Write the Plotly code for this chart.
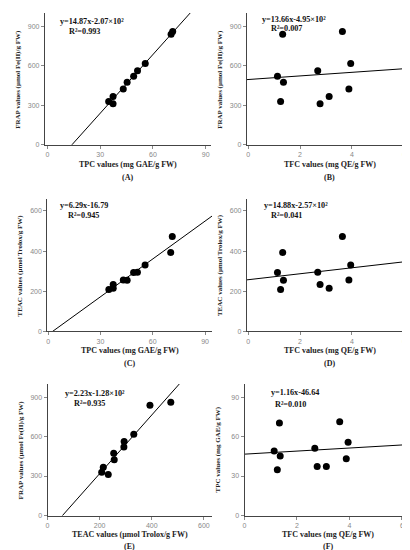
import plotly.graph_objects as go

# ten samples, values
tfc = [1.13, 1.33, 1.36, 1.25, 2.68, 2.77, 3.12, 3.63, 3.95, 3.88]   # mg QE/g FW
tpc = [49.0, 70.3, 45.3, 34.8, 51.2, 37.3, 37.3, 71.2, 55.6, 43.1]   # mg GAE/g FW
frap = [520, 838, 474, 328, 562, 311, 366, 860, 617, 423]            # umol Fe(II)/g FW
teac = [293, 393, 254, 208, 294, 233, 214, 473, 331, 256]            # umol Trolox/g FW

# fitted lines (slope, intercept) and the text printed on each panel
slopes = [14.87, 13.66, 6.29, 14.88, 2.23, 1.16]
intercepts = [-207.0, 495.0, -16.79, 257.0, -128.0, 46.64]
eq_text = ["y=14.87x-2.07×10²", "y=13.66x-4.95×10²", "y=6.29x-16.79",
           "y=14.88x-2.57×10²", "y=2.23x-1.28×10²", "y=1.16x-46.64"]
r2_text = ["R²=0.993", "R²=0.007", "R²=0.945", "R²=0.041", "R²=0.935", "R²=0.010"]
letters = ["(A)", "(B)", "(C)", "(D)", "(E)", "(F)"]

TPC_T = "TPC values (mg GAE/g FW)"
TFC_T = "TFC values (mg QE/g FW)"
FRAP_T = "FRAP values (μmol Fe(II)/g FW)"
TEAC_T = "TEAC values (μmol Trolox/g FW)"

panels = [
    # x, y, xtitle, ytitle, xrange, yrange, xdtick, ydtick
    (tpc, frap, TPC_T, FRAP_T, [-1.5, 93], [0, 1000], 30, 300),
    (tfc, frap, TFC_T, FRAP_T, [-0.05, 6.35], [0, 1000], 2, 300),
    (tpc, teac, TPC_T, TEAC_T, [-0.5, 94], [0, 660], 30, 200),
    (tfc, teac, TFC_T, TEAC_T, [-0.05, 6.35], [0, 660], 2, 200),
    (teac, frap, TEAC_T, FRAP_T, [0, 630], [0, 1000], 200, 300),
    (tfc, tpc, TFC_T, TPC_T, [0, 6.4], [0, 100], 2, 30),
]

W, H = 410, 550
# plot boxes in pixels: left, right, top, bottom
boxes = [
    (35, 202, 5, 137.5), (238, 405, 5, 137.5),
    (37.5, 203, 192, 325), (238, 405, 192, 325),
    (37.7, 202.7, 378, 510.3), (235.7, 404.3, 378, 510.3),
]
eq_pos = [(48, 14, 57, 23.5), (251, 12, 260, 21), (48, 199, 56, 209),
          (253, 199, 260, 209), (53, 388, 62, 398), (260, 387, 264, 399)]
title_y = [157, 157, 344, 344, 529, 529]
letter_y = [170, 170, 357, 357, 541, 541]

serif = "Liberation Serif"
fig = go.Figure()
layout = {}
annots = []

for i, (xs, ys, xt, yt, xr, yr, xd, yd) in enumerate(panels):
    n = "" if i == 0 else str(i + 1)
    l, r, t, b = boxes[i]
    fig.add_trace(go.Scatter(x=xs, y=ys, mode="markers", xaxis="x" + n, yaxis="y" + n,
                             marker=dict(color="black", size=7), showlegend=False))
    lx = [xr[0], xr[1]]
    ly = [slopes[i] * v + intercepts[i] for v in lx]
    fig.add_trace(go.Scatter(x=lx, y=ly, mode="lines", xaxis="x" + n, yaxis="y" + n,
                             line=dict(color="black", width=1), showlegend=False))
    common = dict(showline=True, linecolor="#444", linewidth=1, showgrid=False,
                  zeroline=False, ticks="outside", ticklen=3, tickcolor="#888",
                  tickfont=dict(family="Liberation Sans", size=7, color="#888"))
    layout["xaxis" + n] = dict(common, domain=[l / W, r / W], range=xr, dtick=xd, tick0=0,
                               anchor="y" + n)
    layout["yaxis" + n] = dict(common, domain=[1 - b / H, 1 - t / H], range=yr, dtick=yd,
                               tick0=0, anchor="x" + n)
    cx = (l + r) / 2
    annots.append(dict(x=cx / W, y=1 - title_y[i] / H, text="<b>" + xt + "</b>",
                       font=dict(family=serif, size=8, color="#222")))
    annots.append(dict(x=cx / W, y=1 - letter_y[i] / H, text="<b>" + letters[i] + "</b>",
                       font=dict(family=serif, size=8, color="#222")))
    annots.append(dict(x=(l - 27) / W, y=1 - (t + b) / 2 / H, text="<b>" + yt + "</b>",
                       textangle=-90, font=dict(family=serif, size=7, color="#222")))
    ex, ey, rx, ry = eq_pos[i]
    annots.append(dict(x=ex / W, y=1 - ey / H, text="<b>" + eq_text[i] + "</b>",
                       xanchor="left", font=dict(family=serif, size=8.2, color="#111")))
    annots.append(dict(x=rx / W, y=1 - ry / H, text="<b>" + r2_text[i] + "</b>",
                       xanchor="left", font=dict(family=serif, size=8.2, color="#111")))

for a in annots:
    a.update(xref="paper", yref="paper", showarrow=False)
    a.setdefault("xanchor", "center")
    a.setdefault("yanchor", "middle")

fig.update_layout(width=W, height=H, margin=dict(l=0, r=0, t=0, b=0),
                  paper_bgcolor="white", plot_bgcolor="white",
                  annotations=annots, **layout)
fig.write_html("out.html")
